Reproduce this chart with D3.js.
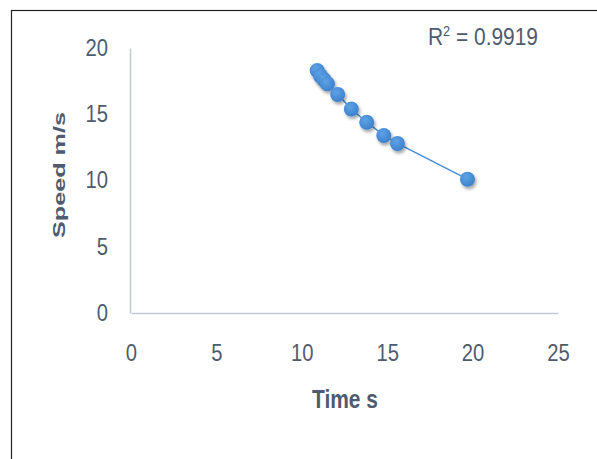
<!DOCTYPE html>
<html><head><meta charset="utf-8">
<script src="https://cdn.jsdelivr.net/npm/d3@7"></script>
<style>body{margin:0;background:#fff}svg{display:block}</style>
</head><body>
<svg id="c" width="597" height="459"></svg>
<script>
const times = [10.9, 11.1, 11.3, 11.5, 12.1, 12.9, 13.8, 14.8, 15.6, 19.7];
const speeds = [18.3, 17.9, 17.6, 17.3, 16.5, 15.4, 14.4, 13.4, 12.8, 10.1];
const xTicks = [0, 5, 10, 15, 20, 25];
const yTicks = [0, 5, 10, 15, 20];
const r2Label = "0.9919";
const xTitle = "Time s", yTitle = "Speed m/s";

const svg = d3.select("#c");
const font = "'Liberation Sans','Arial',sans-serif";
const txt = "#4f5b6e";

function squeeze(sel, k){
  sel.each(function(){
    const L = this.getComputedTextLength();
    d3.select(this).attr("textLength", L*k).attr("lengthAdjust","spacingAndGlyphs");
  });
}

// outer border
svg.append("rect").attr("x",11.5).attr("y",10.5).attr("width",700).attr("height",600)
  .attr("fill","none").attr("stroke","#222").attr("stroke-width",1.2);

const x = d3.scaleLinear().domain([0,25]).range([131,558]);
const y = d3.scaleLinear().domain([0,20]).range([313,48]);

// axes
const yAx = svg.append("g").attr("transform","translate(130,0)")
  .call(d3.axisLeft(y).tickValues(yTicks).tickSize(0).tickPadding(22));
yAx.select(".domain").attr("stroke","#c3cad6").attr("stroke-width",1.5);
yAx.selectAll("text").attr("font-family",font).attr("font-size",23).attr("fill",txt).call(squeeze,0.88);

const xAx = svg.append("g").attr("transform","translate(0,313)")
  .call(d3.axisBottom(x).tickValues(xTicks).tickSize(0).tickPadding(32));
xAx.select(".domain").attr("stroke","#c3cad6").attr("stroke-width",1.5);
xAx.selectAll("text").attr("font-family",font).attr("font-size",23).attr("fill",txt).call(squeeze,0.88);

// titles
svg.append("text").attr("x",345).attr("y",408).attr("text-anchor","middle")
  .attr("font-family",font).attr("font-weight","bold").attr("font-size",25).attr("fill",txt)
  .attr("textLength",66).attr("lengthAdjust","spacingAndGlyphs")
  .text(xTitle);
svg.append("text").attr("transform","translate(65,175) rotate(-90)").attr("text-anchor","middle")
  .attr("font-family",font).attr("font-weight","bold").attr("font-size",17).attr("fill",txt)
  .attr("textLength",126).attr("lengthAdjust","spacingAndGlyphs")
  .text(yTitle);

// R^2
const rt = svg.append("text").attr("x",428).attr("y",45)
  .attr("font-family",font).attr("font-size",23).attr("fill",txt)
  .attr("textLength",110).attr("lengthAdjust","spacingAndGlyphs");
rt.append("tspan").text("R");
rt.append("tspan").attr("font-size",14).attr("dy",-9).text("2");
rt.append("tspan").attr("dy",9).text(" = " + r2Label);

// defs
const defs = svg.append("defs");
const g = defs.append("radialGradient").attr("id","mk").attr("cx","40%").attr("cy","35%").attr("r","70%");
g.append("stop").attr("offset","0%").attr("stop-color","#5ea2e6");
g.append("stop").attr("offset","100%").attr("stop-color","#3a7fcc");
const f = defs.append("filter").attr("id","sh").attr("x","-50%").attr("y","-50%").attr("width","200%").attr("height","200%");
f.append("feDropShadow").attr("dx",1.5).attr("dy",2.5).attr("stdDeviation",1.8).attr("flood-color","#000").attr("flood-opacity",0.35);

const data = times.map((t,i)=>({t, s: speeds[i]}));

// connecting line
svg.append("path").datum(data)
  .attr("d", d3.line().x(d=>x(d.t)).y(d=>y(d.s)))
  .attr("fill","none").attr("stroke","#4a8fd6").attr("stroke-width",1.5);

// points
svg.append("g").selectAll("circle").data(data).join("circle")
  .attr("cx",d=>x(d.t)).attr("cy",d=>y(d.s)).attr("r",7.5)
  .attr("fill","url(#mk)").attr("filter","url(#sh)");
</script>
</body></html>
